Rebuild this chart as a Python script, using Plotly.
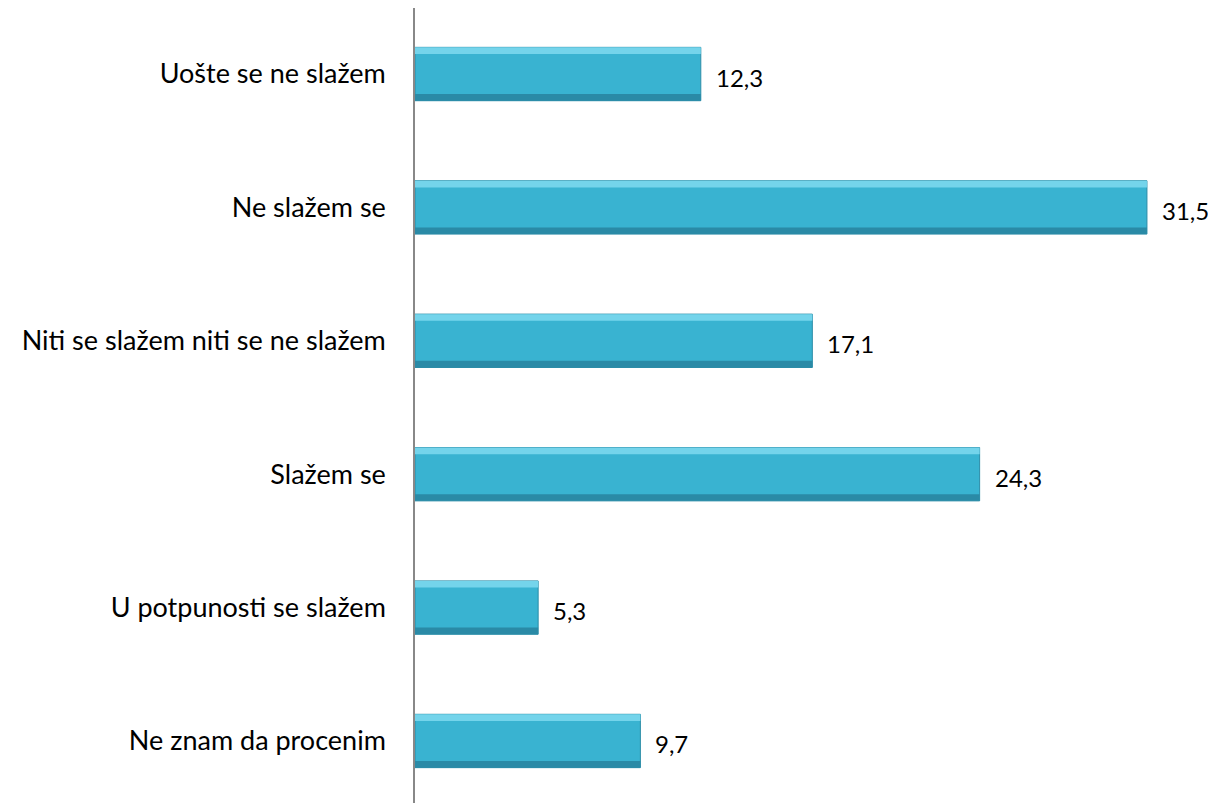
import plotly.graph_objects as go

categories = ["Uošte se ne slažem", "Ne slažem se", "Niti se slažem niti se ne slažem",
              "Slažem se", "U potpunosti se slažem", "Ne znam da procenim"]
values = [12.3, 31.5, 17.1, 24.3, 5.3, 9.7]

fig = go.Figure()
fig.add_trace(go.Bar(y=categories, x=values, orientation="h", width=0.4, offset=-0.2,
                     marker=dict(color="#39B3D1", line=dict(color="#2B8CA7", width=1)),
                     hoverinfo="x+y"))
# top highlight strip (bevel)
fig.add_trace(go.Bar(y=categories, x=values, orientation="h", width=0.05, offset=-0.2,
                     marker=dict(color="#74D4EB", line=dict(width=0)), hoverinfo="skip"))
# bottom shade strip (bevel)
fig.add_trace(go.Bar(y=categories, x=values, orientation="h", width=0.05, offset=0.15,
                     marker=dict(color="#2A8AA6", line=dict(width=0)), hoverinfo="skip"))

for c, v in zip(categories, values):
    fig.add_annotation(x=v, y=c, text=f"{v:.1f}".replace(".", ","), showarrow=False,
                       xanchor="left", xshift=13, yshift=-3,
                       font=dict(family="Lato", size=24, color="#000000"))

fig.update_layout(
    width=1208, height=795,
    margin=dict(l=407, r=4, t=0, b=0, autoexpand=False),
    barmode="overlay",
    showlegend=False,
    plot_bgcolor="white", paper_bgcolor="white",
    xaxis=dict(range=[0, 34.3], visible=False, showgrid=False, zeroline=False,
               automargin=False),
    yaxis=dict(categoryorder="array", categoryarray=categories, range=[5.465, -0.495],
               showline=True, linecolor="#888888", linewidth=1.5, showgrid=False,
               ticks="", ticklabelstandoff=22, automargin=False,
               tickfont=dict(family="Lato", size=27, color="#000000")),
)

fig.write_html("out.html")
